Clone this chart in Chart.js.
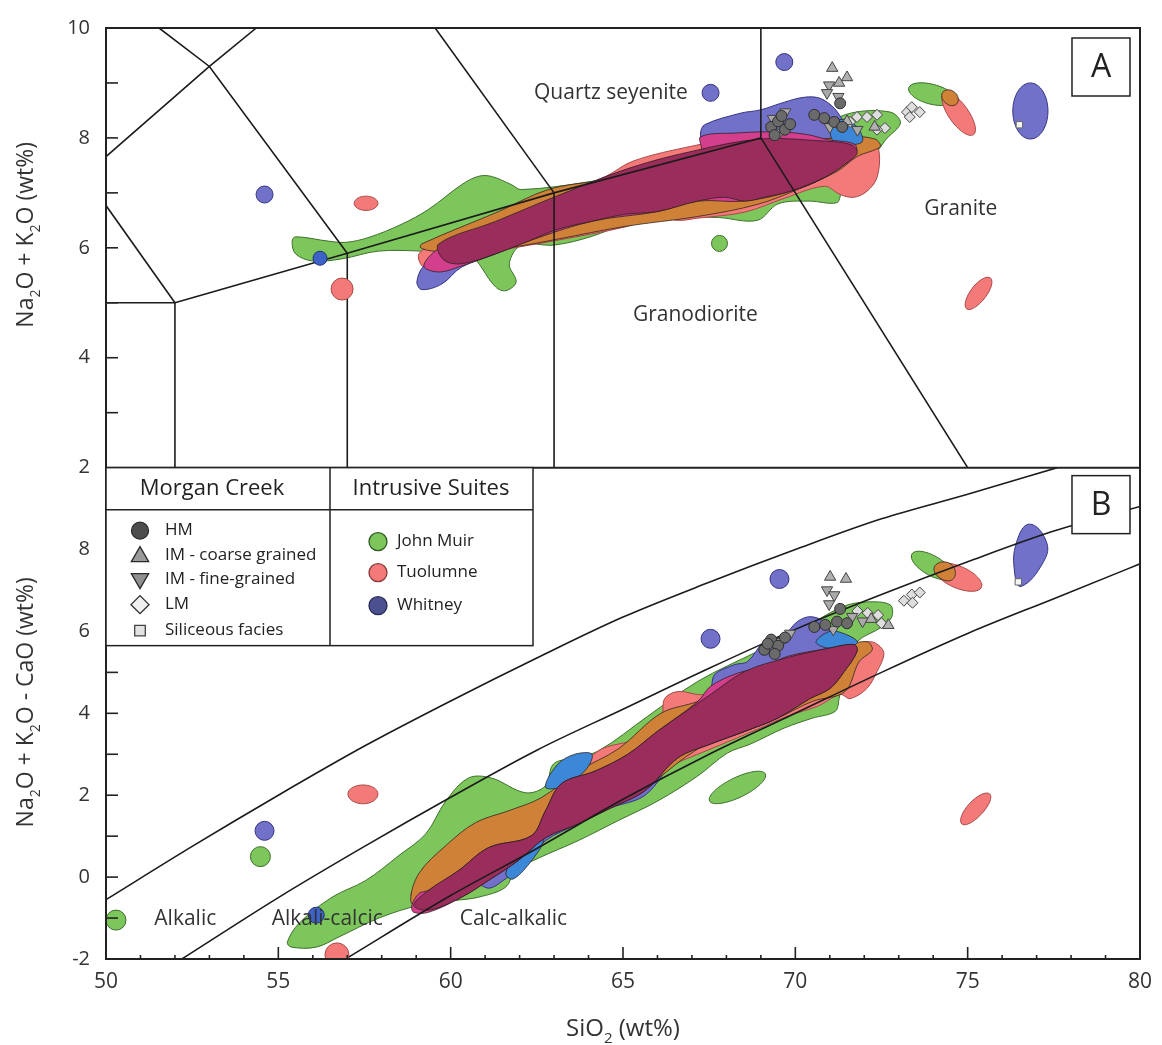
<!DOCTYPE html>
<html>
<head>
<meta charset="utf-8">
<script src="https://cdn.jsdelivr.net/npm/chart.js@4.4.1/dist/chart.umd.min.js"></script>
<style>
  html, body { margin: 0; padding: 0; background: #fff; }
  #wrap { width: 1162px; height: 1045px; }
</style>
</head>
<body>
<div id="wrap"><canvas id="myChart" width="1162" height="1045"></canvas></div>
<script>

// ---------- panel A : SiO2 vs Na2O + K2O ----------
var tasLinesA = [
  [[51.54,10],[53,9.3],[57,5.9]],
  [[50,7.66],[53,9.3],[54.36,10]],
  [[50,6.77],[52,5]],
  [[50,5],[52,5],[52,2]],
  [[52,5],[57,5.9],[63,7],[69,8],[75,2]],
  [[57,5.9],[57,2]],
  [[63,7],[63,2]],
  [[63,7],[59.55,10]],
  [[69,8],[69,10]]
];

var johnMuirA = [[55.4,6.12],[55.5,6.2],[56.47,6.12],[56.97,6.1],[57.63,6.19],[58.58,6.43],[59.36,6.7],[60.32,7.15],
  [60.8,7.3],[61.18,7.3],[61.76,7.15],[62.05,7.06],[64.0,7.2],[66.0,7.45],[67.5,7.6],[69.0,7.85],[70.5,8.15],[71.6,8.45],
  [72.75,8.47],[73.05,8.27],[72.6,7.95],[72.0,7.4],[71.35,7.0],[71.2,6.82],[70.4,6.85],[69.5,6.8],[68.9,6.5],
  [67.8,6.55],[66.6,6.58],[66.0,6.65],[64.1,6.21],[63.0,6.05],[62.05,6.05],[61.7,5.71],[61.9,5.38],[61.6,5.22],
  [61.3,5.29],[60.5,5.89],[59.16,5.94],[57.9,5.94],[56.85,5.8],[56.0,5.76],[55.5,5.89]];
var tuolumneA = [[59.08,5.89],[59.65,6.1],[61.39,6.52],[63.12,6.95],[64.5,7.3],[65.3,7.58],[67.0,7.85],[68.9,8.06],
  [70.3,8.1],[71.5,8.04],[72.23,7.91],[72.43,7.75],[72.37,7.28],[72.08,7.03],[71.7,6.92],[71.3,6.97],[70.84,7.12],
  [69.68,6.9],[68.53,6.65],[67.17,6.54],[66.59,6.5],[66.01,6.57],[65.06,6.38],[63.12,6.14],[61.39,5.94],[59.94,5.67],[59.22,5.65]];
var whitneyA = [[59.02,5.38],[59.22,5.67],[59.8,5.89],[61.39,6.34],[63.12,6.79],[65.43,7.33],[67.25,7.69],[67.25,8.09],
  [67.37,8.24],[68.41,8.45],[68.99,8.51],[69.68,8.65],[70.26,8.74],[70.72,8.72],[71.13,8.54],[71.42,8.29],[71.79,8.06],
  [71.73,7.69],[70.84,7.28],[69.86,7.03],[68.53,6.85],[67.17,6.85],[66.01,6.66],[64.08,6.48],[62.34,6.16],[61.3,5.89],
  [60.32,5.65],[59.74,5.34],[59.16,5.24]];
var muirTuolA = [[59.16,6.07],[61.39,6.66],[62.83,7.06],[64.28,7.22],[66.0,7.38],[67.5,7.56],[69.0,7.82],[71.5,8.02],
  [72.31,7.98],[72.46,7.84],[71.79,7.66],[71.21,7.39],[70.06,7.06],[68.9,6.79],[67.17,6.57],[65.06,6.39],[63.12,6.16],
  [61.97,6.03],[60.52,5.92],[59.5,5.94],[59.13,6.0]];
var muirWhitA = [[71.07,8.27],[71.5,8.33],[71.85,8.15],[71.94,7.93],[71.5,7.88],[71.07,7.97]];
var tuolWhitA = [[59.22,5.67],[59.65,5.98],[61.3,6.39],[63.03,6.84],[65.43,7.33],[67.25,7.75],[67.25,8.02],[68.32,8.09],
  [69.48,8.11],[70.35,8.06],[70.93,7.97],[71.73,7.88],[71.73,7.69],[70.84,7.28],[69.86,7.03],[68.53,6.85],[67.17,6.85],
  [66.01,6.66],[64.08,6.48],[62.25,6.12],[61.3,5.89],[60.32,5.67],[59.65,5.56]];
var allSuitesA = [[59.65,6.07],[61.3,6.48],[63.03,6.93],[65.23,7.46],[67.17,7.78],[69.0,7.98],[70.64,7.95],[71.6,7.88],
  [71.8,7.73],[71.42,7.51],[70.84,7.28],[69.86,7.03],[69.1,6.92],[68.53,6.85],[67.95,6.92],[67.17,6.85],[66.0,6.66],
  [65.06,6.61],[64.08,6.48],[63.12,6.34],[62.25,6.12],[61.3,5.89],[60.32,5.71],[59.8,5.78]];

var muirPatchesA = [[[73.29,8.91],[74.03,8.97],[74.63,8.69],[73.88,8.62]]];
var tuolPatchesA = [[[57.2,6.81],[57.54,6.94],[57.89,6.81],[57.54,6.68]],
  [[74.31,8.82],[74.97,8.54],[75.17,8.06],[74.51,8.33]],
  [[74.97,4.89],[75.5,5.09],[75.66,5.45],[75.14,5.27]]];
var muirTuolPatchesA = [[[74.25,8.8],[74.55,8.86],[74.72,8.66],[74.45,8.6]]];
var whitPatchesA = [[[76.82,9.0],[77.33,8.49],[76.82,7.98],[76.31,8.49]]];

var muirSamplesA = [[67.8,6.08]];
var tuolSamplesA = [[56.85,5.25]];
var whitSamplesA = [[54.6,6.97],[67.54,8.82],[69.68,9.38]];
var whitDarkA = [[56.21,5.81]];

var hmA = [[71.3,8.63],[70.55,8.42],[70.84,8.36],[71.13,8.29],[69.3,8.2],[69.5,8.3],[69.7,8.15],[69.4,8.05],[69.6,8.4],[69.85,8.25],[71.36,8.2]];
var imCoarseA = [[71.07,9.27],[71.5,9.1],[71.27,9.0],[71.5,8.3],[72.3,8.2]];
var imFineA = [[70.98,8.96],[70.92,8.82],[71.25,8.75],[69.71,8.47],[69.35,8.35],[69.55,8.1],[71.0,8.2],[71.8,8.15]];
var lmA = [[71.59,8.29],[71.79,8.38],[72.08,8.38],[72.37,8.42],[72.6,8.18],[72.37,8.15],[73.24,8.47],[73.38,8.56],[73.61,8.47],[73.32,8.38]];
var siliceousA = [[76.5,8.24]];

// ---------- panel B : SiO2 vs Na2O + K2O - CaO ----------
var maliLinesB = [
  [[50,-0.55],[52.5,0.75],[55,2.0],[57.5,3.2],[60,4.3],[62.5,5.35],[65,6.35],[67.5,7.2],[70,8.0],[72.5,8.75],[75,9.35],[77.6,10]],
  [[52.2,-2],[55,-0.5],[57.5,0.75],[60,1.95],[62.5,3.1],[65,4.1],[67.5,5.1],[70,6.05],[72.5,6.9],[75,7.7],[77.5,8.45],[80,9.05]],
  [[56.95,-2],[60,-0.45],[62.5,0.7],[65,1.9],[67.5,3.0],[70,4.0],[72.5,5.0],[75,5.95],[77.5,6.8],[80,7.65]]
];

var johnMuirB = [[55.26,-1.59],[55.61,-1.12],[56.56,-0.49],[57.54,-0.08],[58.5,0.53],[59.28,1.06],[59.86,1.86],[60.52,2.42],
  [61.18,2.42],[62.17,2.06],[62.75,2.23],[62.98,2.76],[63.55,2.91],[64.28,3.08],[65.72,3.93],[67.17,4.78],[68.9,5.51],
  [70.06,5.99],[71.36,6.6],[72.08,6.72],[72.75,6.65],[72.8,6.36],[72.51,6.11],[71.79,5.75],[71.5,5.26],[71.27,4.36],
  [71.16,4.05],[70.49,3.88],[69.68,3.64],[68.7,3.25],[68.03,3.03],[67.17,2.47],[66.01,1.86],[64.86,1.38],[63.7,0.89],
  [62.54,0.46],[61.88,0.16],[61.59,-0.25],[60.81,-0.49],[60.14,-0.57],[59.08,-0.69],[57.92,-1.0],[56.76,-1.46],[56.1,-1.71],[55.38,-1.71]];
var tuolumneB = [[58.84,-0.44],[59.22,0.04],[60.52,0.77],[61.97,1.5],[63.12,2.11],[64.28,3.08],[65.43,3.39],[66.1,3.88],
  [66.21,4.36],[66.59,4.53],[67.37,4.46],[68.32,4.78],[69.48,5.14],[70.64,5.51],[71.5,5.63],[72.17,5.75],[72.46,5.63],
  [72.57,5.43],[72.37,5.02],[72.08,4.61],[71.59,4.36],[71.3,4.46],[70.64,4.17],[69.77,3.93],[68.9,3.61],[67.75,3.2],
  [66.01,2.59],[64.28,1.86],[62.54,1.09],[60.81,0.36],[59.65,-0.2],[59.08,-0.44]];
var whitneyB = [[60.81,-0.08],[61.68,0.65],[62.54,1.13],[63.7,1.86],[64.86,2.47],[66.01,3.2],[67.17,4.29],[67.54,4.61],
  [67.66,4.95],[68.24,5.19],[68.61,5.26],[69.1,5.75],[69.68,5.92],[70.06,6.24],[70.43,6.36],[70.84,6.24],[71.01,5.99],
  [71.3,5.82],[71.71,5.68],[71.79,5.51],[71.42,5.02],[71.01,4.61],[70.43,4.36],[69.48,3.88],[68.53,3.56],[67.54,3.25],
  [66.59,2.91],[65.64,2.0],[64.65,1.69],[63.7,1.3],[62.75,0.89],[62.25,0.41],[61.53,-0.08],[61.1,-0.27]];
var muirTuolB = [[58.84,-0.57],[59.08,0.09],[59.86,0.77],[60.72,1.33],[61.68,1.62],[62.63,1.94],[63.7,2.59],[64.86,3.13],
  [66.1,4.0],[67.17,4.29],[68.47,4.78],[70.06,5.26],[71.36,5.63],[72.08,5.75],[72.23,5.55],[71.85,5.26],[71.44,4.53],
  [70.49,4.29],[69.48,3.88],[68.32,3.49],[67.17,3.13],[65.72,2.23],[64.28,1.57],[63.12,1.13],[62.25,0.82],[61.39,0.16],
  [60.52,-0.33],[59.65,-0.69],[59.08,-0.76]];
var muirWhitB = [
  [[61.6,0.1],[62.0,0.7],[62.5,1.05],[62.7,0.9],[62.3,0.35],[61.8,-0.05]],
  [[62.75,2.2],[63.1,2.75],[63.6,3.0],[64.1,3.0],[63.9,2.6],[63.2,2.2]],
  [[70.6,5.75],[71.0,6.0],[71.4,5.95],[71.8,5.75],[71.6,5.62],[70.9,5.6]]
];
var tuolWhitB = [[58.87,-0.7],[59.08,-0.4],[59.36,-0.32],[60.23,0.16],[61.1,0.72],[62.34,1.01],[62.75,1.62],[63.21,2.28],
  [64.19,2.59],[65.14,3.0],[66.0,3.56],[67.17,4.29],[67.54,4.66],[68.32,4.98],[69.1,5.14],[69.77,5.39],[70.92,5.58],
  [71.71,5.68],[71.79,5.51],[71.42,5.02],[71.01,4.61],[70.43,4.36],[69.48,3.88],[68.53,3.56],[67.54,3.25],[66.59,2.91],
  [65.64,2.11],[64.65,1.69],[63.7,1.3],[62.75,0.96],[61.97,0.41],[61.1,-0.08],[60.32,-0.49],[59.36,-0.86],[58.93,-0.86]];
var allSuitesB = [[58.93,-0.69],[59.36,-0.32],[60.23,0.16],[61.1,0.72],[62.34,1.01],[62.75,1.62],[63.21,2.28],[64.19,2.59],
  [65.14,3.0],[66.0,3.56],[67.54,4.46],[68.53,5.02],[69.68,5.34],[70.92,5.58],[71.71,5.68],[71.79,5.51],[71.42,5.02],
  [71.01,4.61],[70.43,4.36],[69.48,3.88],[68.53,3.56],[67.54,3.25],[66.59,2.91],[65.64,2.11],[64.65,1.69],[63.7,1.3],
  [62.75,0.96],[61.97,0.41],[61.1,-0.08],[60.32,-0.49],[59.36,-0.81]];

var muirPatchesB = [[[67.51,1.86],[68.2,2.41],[69.13,2.52],[68.45,1.97]],
  [[73.38,7.89],[74.1,7.82],[74.54,7.33],[73.82,7.4]]];
var tuolPatchesB = [[[57.02,2.03],[57.46,2.25],[57.89,2.03],[57.46,1.79]],
  [[74.05,7.57],[74.85,7.57],[75.4,7.08],[74.6,7.08]],
  [[74.83,1.3],[75.4,1.54],[75.64,2.03],[75.06,1.8]]];
var muirTuolPatchesB = [[[74.05,7.6],[74.5,7.65],[74.6,7.3],[74.2,7.3]]];
var whitPatchesB = [[[76.79,8.62],[77.28,8.2],[77.2,7.7],[76.55,7.1],[76.36,7.45],[76.42,8.18]]];

var muirSamplesB = [[54.48,0.5],[50.29,-1.05]];
var tuolSamplesB = [[56.7,-1.9]];
var whitSamplesB = [[69.54,7.28],[67.54,5.82],[54.6,1.13]];
var whitDarkB = [[56.1,-0.93]];

var hmB = [[71.3,6.55],[70.55,6.11],[70.87,6.16],[71.21,6.24],[69.1,5.55],[69.3,5.8],[69.5,5.65],[69.4,5.45],[69.7,5.85],[69.2,5.7],[71.5,6.2]];
var imCoarseB = [[71.01,7.33],[71.47,7.28],[72.2,6.3],[72.7,6.15]];
var imFineB = [[70.92,7.01],[71.13,6.89],[70.98,6.67],[69.85,5.95],[69.6,5.75],[71.65,6.36],[71.95,6.25],[71.1,6.05]];
var lmB = [[71.8,6.5],[72.1,6.45],[72.4,6.4],[73.15,6.75],[73.38,6.9],[73.61,6.95],[73.4,6.7],[72.5,6.2]];
var siliceousB = [[76.47,7.21]];

// ---------- text ----------
var fieldLabelsA = [
  {text: 'Quartz seyenite', x: 64.65, y: 8.82},
  {text: 'Granodiorite', x: 67.1, y: 4.77},
  {text: 'Granite', x: 74.8, y: 6.7}
];
var fieldLabelsB = [
  {text: 'Alkalic', x: 52.3, y: -1.03},
  {text: 'Alkali-calcic', x: 56.42, y: -1.03},
  {text: 'Calc-alkalic', x: 61.82, y: -1.03}
];
var legendHeaders = ['Morgan Creek', 'Intrusive Suites'];
var morganCreekNames = ['HM', 'IM - coarse grained', 'IM - fine-grained', 'LM', 'Siliceous facies'];
var suiteNames = ['John Muir', 'Tuolumne', 'Whitney'];
var titleA = 'Na_2O + K_2O (wt%)';
var titleB = 'Na_2O + K_2O - CaO (wt%)';
var titleX = 'SiO_2 (wt%)';

var GREEN = '#7dc65c', GREEN_EDGE = '#3d6e2b';
var RED = '#f47a79', RED_EDGE = '#a84848';
var BLUE = '#7171c9', BLUE_EDGE = '#343480';
var ORANGE = '#cf8237', MAGENTA = '#d33e8d', AZURE = '#3c87d8', MAROON = '#9b2d5d';
var OVER_EDGE = 'rgba(40,30,30,0.75)';

document.addEventListener("DOMContentLoaded", main);

function pts(arr){
  return arr.map(function(p){ return {x: p[0], y: p[1]}; });
}

function field(arr, axis, fill, edge, tension){
  return {type: 'line', data: pts(arr), yAxisID: axis, closed: true, fill: 'shape',
    backgroundColor: fill, borderColor: edge, borderWidth: 1, pointRadius: 0,
    tension: tension === undefined ? 0.35 : tension};
}

function boundary(arr, axis, smooth){
  var ds = {type: 'line', data: pts(arr), yAxisID: axis, fill: false, borderColor: '#1b1b1b',
    borderWidth: 1.6, pointRadius: 0, tension: 0};
  if(smooth){ ds.cubicInterpolationMode = 'monotone'; }
  return ds;
}

function markers(arr, axis, style, radius, fill, edge, rotation){
  return {type: 'scatter', data: pts(arr), yAxisID: axis, pointStyle: style, pointRadius: radius,
    pointRotation: rotation || 0, backgroundColor: fill, borderColor: edge, borderWidth: 1, clip: 0};
}

function buildLayers(){
  var layers = [];
  // panel A fields
  layers.push(field(johnMuirA, 'yA', GREEN, GREEN_EDGE));
  layers.push(field(tuolumneA, 'yA', RED, RED_EDGE));
  layers.push(field(whitneyA, 'yA', BLUE, BLUE_EDGE));
  layers.push(field(muirTuolA, 'yA', ORANGE, OVER_EDGE));
  layers.push(field(muirWhitA, 'yA', AZURE, OVER_EDGE));
  layers.push(field(tuolWhitA, 'yA', MAGENTA, OVER_EDGE));
  layers.push(field(allSuitesA, 'yA', MAROON, OVER_EDGE));
  muirPatchesA.forEach(function(p){ layers.push(field(p, 'yA', GREEN, GREEN_EDGE, 0.55)); });
  tuolPatchesA.forEach(function(p){ layers.push(field(p, 'yA', RED, RED_EDGE, 0.55)); });
  muirTuolPatchesA.forEach(function(p){ layers.push(field(p, 'yA', ORANGE, OVER_EDGE, 0.55)); });
  whitPatchesA.forEach(function(p){ layers.push(field(p, 'yA', BLUE, BLUE_EDGE, 0.55)); });
  // panel B fields
  layers.push(field(johnMuirB, 'yB', GREEN, GREEN_EDGE));
  layers.push(field(tuolumneB, 'yB', RED, RED_EDGE));
  layers.push(field(whitneyB, 'yB', BLUE, BLUE_EDGE));
  layers.push(field(muirTuolB, 'yB', ORANGE, OVER_EDGE));
  muirWhitB.forEach(function(p){ layers.push(field(p, 'yB', AZURE, OVER_EDGE)); });
  layers.push(field(tuolWhitB, 'yB', MAGENTA, OVER_EDGE));
  layers.push(field(allSuitesB, 'yB', MAROON, OVER_EDGE));
  muirPatchesB.forEach(function(p){ layers.push(field(p, 'yB', GREEN, GREEN_EDGE, 0.55)); });
  tuolPatchesB.forEach(function(p){ layers.push(field(p, 'yB', RED, RED_EDGE, 0.55)); });
  muirTuolPatchesB.forEach(function(p){ layers.push(field(p, 'yB', ORANGE, OVER_EDGE, 0.55)); });
  whitPatchesB.forEach(function(p){ layers.push(field(p, 'yB', BLUE, BLUE_EDGE, 0.45)); });

  // classification boundaries
  tasLinesA.forEach(function(l){ layers.push(boundary(l, 'yA', false)); });
  maliLinesB.forEach(function(l){ layers.push(boundary(l, 'yB', true)); });

  // single samples of the suites
  layers.push(markers(muirSamplesA, 'yA', 'circle', 8, GREEN, GREEN_EDGE));
  layers.push(markers(tuolSamplesA, 'yA', 'circle', 11, RED, RED_EDGE));
  layers.push(markers(whitSamplesA, 'yA', 'circle', 8.5, BLUE, BLUE_EDGE));
  layers.push(markers(whitDarkA, 'yA', 'circle', 7, '#3e63c8', '#22336e'));
  layers.push(markers(muirSamplesB, 'yB', 'circle', 10, GREEN, GREEN_EDGE));
  layers.push(markers(tuolSamplesB, 'yB', 'circle', 12, RED, RED_EDGE));
  layers.push(markers(whitSamplesB, 'yB', 'circle', 9.5, BLUE, BLUE_EDGE));
  layers.push(markers(whitDarkB, 'yB', 'circle', 8, '#3e63c8', '#22336e'));

  // Morgan Creek samples
  [['yA', hmA, imCoarseA, imFineA, lmA, siliceousA], ['yB', hmB, imCoarseB, imFineB, lmB, siliceousB]].forEach(function(s){
    layers.push(markers(s[4], s[0], 'rectRot', 5.5, '#dedede', '#444'));
    layers.push(markers(s[3], s[0], 'triangle', 6.5, '#a9a9a9', '#444', 180));
    layers.push(markers(s[2], s[0], 'triangle', 6.5, '#b0b0b0', '#444'));
    layers.push(markers(s[1], s[0], 'circle', 5.5, '#6a6a6a', '#2e2e2e'));
    layers.push(markers(s[5], s[0], 'rect', 4.5, '#f4f4f4', '#666'));
  });

  layers.forEach(function(ds, i){ ds.order = layers.length - i; });
  return layers;
}

// close the field outlines into smooth loops
var loopPlugin = {
  id: 'loopFields',
  afterDatasetsUpdate: function(chart){
    chart.data.datasets.forEach(function(ds, i){
      if(!ds.closed){ return; }
      var line = chart.getDatasetMeta(i).dataset;
      if(!line){ return; }
      line._loop = true;
      line._fullLoop = true;
      line._pointsUpdated = false;
      delete line._segments;
      delete line._path;
    });
  }
};

function richText(ctx, str, cx, cy, size, rotate){
  var parts = [];
  str.split(/(_\d)/).forEach(function(s){
    if(!s){ return; }
    if(s[0] === '_'){ parts.push({t: s.slice(1), sub: true}); }
    else { parts.push({t: s, sub: false}); }
  });
  var fMain = size + 'px "Open Sans"', fSub = Math.round(size * 0.62) + 'px "Open Sans"';
  var w = 0;
  parts.forEach(function(p){ ctx.font = p.sub ? fSub : fMain; p.w = ctx.measureText(p.t).width; w += p.w; });
  ctx.save();
  ctx.translate(cx, cy);
  if(rotate){ ctx.rotate(-Math.PI / 2); }
  ctx.textAlign = 'left';
  ctx.textBaseline = 'alphabetic';
  ctx.fillStyle = '#333';
  var x = -w / 2, base = size * 0.36;
  parts.forEach(function(p){
    ctx.font = p.sub ? fSub : fMain;
    ctx.fillText(p.t, x, base + (p.sub ? size * 0.3 : 0));
    x += p.w;
  });
  ctx.restore();
}

function seg(ctx, x1, y1, x2, y2){
  ctx.beginPath(); ctx.moveTo(x1, y1); ctx.lineTo(x2, y2); ctx.stroke();
}

function symbol(ctx, style, r, fill, edge, x, y, rot){
  ctx.fillStyle = fill; ctx.strokeStyle = edge; ctx.lineWidth = 1.3;
  Chart.helpers.drawPoint(ctx, {pointStyle: style, radius: r, borderWidth: 1.3, rotation: rot || 0}, x, y);
}

var decorPlugin = {
  id: 'decor',
  afterDraw: function(chart){
    var ctx = chart.ctx, sx = chart.scales.x, ya = chart.scales.yA, yb = chart.scales.yB;
    ctx.save();

    // field names
    ctx.fillStyle = '#333';
    ctx.font = '21px "Open Sans"';
    ctx.textAlign = 'center';
    ctx.textBaseline = 'middle';
    fieldLabelsA.forEach(function(l){ ctx.fillText(l.text, sx.getPixelForValue(l.x), ya.getPixelForValue(l.y)); });
    fieldLabelsB.forEach(function(l){ ctx.fillText(l.text, sx.getPixelForValue(l.x), yb.getPixelForValue(l.y)); });

    // ticks, pointing inward
    ctx.strokeStyle = '#222';
    ctx.lineWidth = 1.6;
    var v;
    for(v = 3; v <= 9; v++){ var pa = ya.getPixelForValue(v); seg(ctx, sx.left, pa, sx.left + 12, pa); }
    for(v = -1; v <= 9; v++){ var pb = yb.getPixelForValue(v); seg(ctx, sx.left, pb, sx.left + 12, pb); }
    for(v = 51; v <= 79; v++){
      var px = sx.getPixelForValue(v);
      seg(ctx, px, yb.bottom, px, yb.bottom - (v % 5 === 0 ? 12 : 4));
    }

    // frames
    ctx.lineWidth = 2;
    ctx.strokeRect(sx.left, ya.top, sx.right - sx.left, yb.bottom - ya.top);
    seg(ctx, sx.left, yb.top, sx.right, yb.top);

    // panel letters
    ctx.lineWidth = 1.5;
    [['A', ya.top + 10], ['B', yb.top + 8]].forEach(function(b){
      ctx.fillStyle = '#fff';
      ctx.fillRect(sx.right - 68, b[1], 58, 58);
      ctx.strokeRect(sx.right - 68, b[1], 58, 58);
      ctx.fillStyle = '#222';
      ctx.font = '32px "Open Sans"';
      ctx.fillText(b[0], sx.right - 39, b[1] + 30);
    });

    // axis titles
    richText(ctx, titleA, 25, (ya.top + ya.bottom) / 2 - 13, 23, true);
    richText(ctx, titleB, 25, (yb.top + yb.bottom) / 2 - 11, 23, true);
    richText(ctx, titleX, (sx.left + sx.right) / 2, 1027, 24, false);

    // legend table
    var L = sx.left, T = yb.top, W = 427, H = 178, head = 42, split = 224;
    ctx.fillStyle = '#fff';
    ctx.fillRect(L, T, W, H);
    ctx.strokeStyle = '#222';
    ctx.lineWidth = 1.5;
    ctx.strokeRect(L, T, W, H);
    seg(ctx, L, T + head, L + W, T + head);
    seg(ctx, L + split, T, L + split, T + H);
    ctx.fillStyle = '#222';
    ctx.font = '22px "Open Sans"';
    ctx.fillText(legendHeaders[0], L + 106, T + head / 2);
    ctx.fillText(legendHeaders[1], L + 325, T + head / 2);

    var rows = [63, 88, 112, 137, 163];
    symbol(ctx, 'circle', 8.5, '#4d4d4d', '#2a2a2a', L + 34, T + rows[0]);
    symbol(ctx, 'triangle', 10, '#9a9a9a', '#2a2a2a', L + 34, T + rows[1] + 1);
    symbol(ctx, 'triangle', 10, '#8f8f8f', '#2a2a2a', L + 34, T + rows[2] - 1, 180);
    symbol(ctx, 'rectRot', 9, '#f0f0f0', '#2a2a2a', L + 34, T + rows[3]);
    symbol(ctx, 'rect', 7.5, '#e2e2e2', '#444', L + 34, T + rows[4]);
    ctx.fillStyle = '#222';
    ctx.font = '17px "Open Sans"';
    ctx.textAlign = 'left';
    morganCreekNames.forEach(function(n, i){ ctx.fillText(n, L + 59, T + rows[i]); });

    var rowsR = [74, 105, 138];
    symbol(ctx, 'circle', 9, GREEN, '#2f5a22', L + 272, T + rowsR[0]);
    symbol(ctx, 'circle', 9, RED, '#8a3a3a', L + 272, T + rowsR[1]);
    symbol(ctx, 'circle', 9, '#4b5190', '#2a2d55', L + 272, T + rowsR[2]);
    ctx.fillStyle = '#222';
    suiteNames.forEach(function(n, i){ ctx.fillText(n, L + 291, T + rowsR[i]); });

    ctx.restore();
  }
};

function main(){
  Chart.defaults.font.family = '"Open Sans", sans-serif';
  Chart.defaults.color = '#333';

  var ctx = document.getElementById("myChart").getContext('2d');
  var myChart = new Chart(ctx, {
    type: 'scatter',
    data: { datasets: buildLayers() },
    plugins: [loopPlugin, decorPlugin],
    options: {
      responsive: false,
      animation: false,
      events: [],
      layout: { padding: { left: 0, right: 18, top: 22, bottom: 0 } },
      plugins: { legend: { display: false }, tooltip: { enabled: false } },
      scales: {
        x: {
          type: 'linear', position: 'bottom', min: 50, max: 80,
          grid: { display: false, drawTicks: false }, border: { display: false },
          ticks: { stepSize: 5, padding: 10, font: { size: 21 }, color: '#333' },
          afterFit: function(s){ s.height = 86; }
        },
        yB: {
          type: 'linear', position: 'left', stack: 'panels', stackWeight: 494, min: -2, max: 10,
          grid: { display: false, drawTicks: false }, border: { display: false },
          ticks: { stepSize: 1, autoSkip: false, padding: 16, font: { size: 20 }, color: '#333',
            callback: function(v){ return (v % 2 === 0 && v < 10) ? v : ''; } },
          afterFit: function(s){ s.width = 106; }
        },
        yA: {
          type: 'linear', position: 'left', stack: 'panels', stackWeight: 442, min: 2, max: 10,
          grid: { display: false, drawTicks: false }, border: { display: false },
          ticks: { stepSize: 1, autoSkip: false, padding: 16, font: { size: 20 }, color: '#333',
            callback: function(v){ return v % 2 === 0 ? v : ''; } },
          afterFit: function(s){ s.width = 106; }
        }
      }
    }
  });
}
</script>
</body>
</html>
